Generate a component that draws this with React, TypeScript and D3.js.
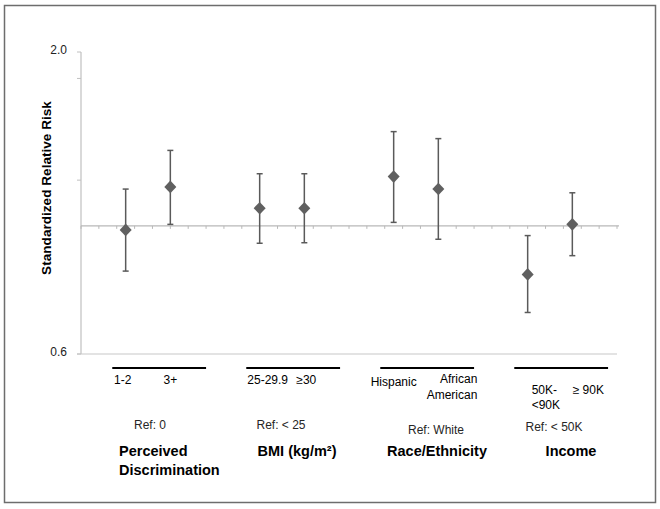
import React from "react";
import * as d3 from "d3";

const groups = ["Perceived\nDiscrimination", "BMI (kg/m²)", "Race/Ethnicity", "Income"];
const refLabels = ["Ref: 0", "Ref: < 25", "Ref: White", "Ref: < 50K"];
const subLabels = [
  ["1-2", "3+"],
  ["25-29.9", "≥30"],
  ["Hispanic", "African\nAmerican"],
  ["50K-\n<90K", "≥ 90K"],
];
const estimates = [0.984, 1.168, 1.073, 1.073, 1.217, 1.158, 0.824, 1.006];
const lower = [0.835, 1.006, 0.933, 0.935, 1.014, 0.948, 0.708, 0.888];
const upper = [1.158, 1.351, 1.231, 1.231, 1.456, 1.416, 0.962, 1.141];
const yTicks = [0.6, 1.2, 1.8, 2.0];
const yTickLabels = ["0.6", "", "", "2.0"];
const refValue = 1.0;

const W = 660, H = 509;
const font = "Arial, 'Liberation Sans', sans-serif";

export default function App() {
  const x = d3.scaleLinear().domain([0, 12]).range([81, 617]);
  const y = d3.scaleLog().domain([0.6, 2.0]).range([354, 52]);
  const points = estimates.map((v, i) => {
    const g = Math.floor(i / 2);
    const s = i % 2;
    return { v, lo: lower[i], hi: upper[i], pos: g * 3 + s + 1 };
  });
  const minorTicks = d3.range(0, 12.0001, 0.4);
  const dpath = d3.line()([[0, -6.3], [6, 0], [0, 6.3], [-6, 0]]) + "Z";
  const subText = "#262626";

  const multi = (t: string, cx: number, cy: number, size: number, weight: string, anchor: string, lh: number) =>
    t.split("\n").map((line, k) => (
      <text key={k} x={cx} y={cy + k * lh} fontSize={size} fontWeight={weight} textAnchor={anchor}
        fontFamily={font} fill="#000" dominantBaseline="middle">{line}</text>
    ));

  return (
    <svg width={W} height={H} style={{ position: "absolute", left: 0, top: 0, background: "#fff" }}>
      <rect x={4.5} y={5.5} width={651} height={497} fill="#fff" stroke="#6d6d6d" strokeWidth={1.5} />
      {/* y axis */}
      <line x1={x(0)} x2={x(0)} y1={y(2.0)} y2={y(0.6)} stroke="#c0c0c0" strokeWidth={1.2} />
      <line x1={x(0) - 4} x2={x(12)} y1={y(0.6)} y2={y(0.6)} stroke="#c8c8c8" strokeWidth={1.2} />
      {yTicks.map((t, i) => (
        <g key={i}>
          <line x1={x(0) - 4} x2={x(0)} y1={y(t)} y2={y(t)} stroke="#c0c0c0" strokeWidth={1} />
          {yTickLabels[i] && (
            <text x={67} y={y(t) - 1} fontSize={12} textAnchor="end" dominantBaseline="middle"
              fontFamily={font} fill="#222">{yTickLabels[i]}</text>
          )}
        </g>
      ))}
      {/* reference line */}
      <line x1={x(0)} x2={x(12) + 2} y1={y(refValue)} y2={y(refValue)} stroke="#b8b8b8" strokeWidth={1.2} />
      {minorTicks.map((t, i) => (
        <line key={i} x1={x(t)} x2={x(t)} y1={y(refValue)} y2={y(refValue) + 3} stroke="#b8b8b8" strokeWidth={1} />
      ))}
      {/* error bars */}
      {points.map((p, i) => (
        <g key={i} stroke="#5a5a5a" strokeWidth={1.5}>
          <line x1={x(p.pos)} x2={x(p.pos)} y1={y(p.hi)} y2={y(p.lo)} />
          <line x1={x(p.pos) - 3} x2={x(p.pos) + 3} y1={y(p.hi)} y2={y(p.hi)} />
          <line x1={x(p.pos) - 3} x2={x(p.pos) + 3} y1={y(p.lo)} y2={y(p.lo)} />
        </g>
      ))}
      {points.map((p, i) => (
        <path key={i} d={dpath} transform={`translate(${x(p.pos)},${y(p.v)})`} fill="#606060" />
      ))}
      {/* y label */}
      <text transform={`translate(47,188) rotate(-90)`} fontSize={13.6} fontWeight="bold"
        textAnchor="middle" dominantBaseline="middle" fontFamily={font}>Standardized Relative Risk</text>
      {/* group annotations */}
      {groups.map((g, gi) => {
        const cx = x(gi * 3 + 1.5);
        const x0 = x(gi * 3 + 0.7);
        const x1 = x(gi * 3 + 2.8);
        return (
          <g key={gi}>
            <line x1={x0} x2={x1} y1={368} y2={368} stroke="#000" strokeWidth={2} />
            {gi === 0 && (<>
              {multi(subLabels[0][0], x(1) - 3, 381, 12, "normal", "middle", 15)}
              {multi(subLabels[0][1], x(2), 381, 12, "normal", "middle", 15)}
            </>)}
            {gi === 1 && (<>
              {multi(subLabels[1][0], x(4) + 8, 381, 12, "normal", "middle", 15)}
              {multi(subLabels[1][1], x(5) + 2, 381, 12, "normal", "middle", 15)}
            </>)}
            {gi === 2 && (<>
              {multi(subLabels[2][0], x(7), 383, 12, "normal", "middle", 15)}
              {multi(subLabels[2][1], x(8) + 39, 380, 12, "normal", "end", 16)}
            </>)}
            {gi === 3 && (<>
              {multi(subLabels[3][0], x(10) + 4, 391, 12, "normal", "start", 15)}
              {multi(subLabels[3][1], x(11) + 16, 391, 12, "normal", "middle", 15)}
            </>)}
            <text x={gi === 0 ? cx + 2 : gi === 1 ? cx - 1 : gi === 2 ? cx + 20 : cx + 4}
              y={gi === 2 ? 431 : gi === 3 ? 428 : 426} fontSize={12} textAnchor="middle"
              dominantBaseline="middle" fontFamily={font} fill={subText}>{refLabels[gi]}</text>
            {gi === 0
              ? multi(g, 119, 452, 14.5, "bold", "start", 19)
              : multi(g, gi === 1 ? 297 : gi === 2 ? 437 : 571, 452, 14.5, "bold", "middle", 19)}
          </g>
        );
      })}
    </svg>
  );
}
